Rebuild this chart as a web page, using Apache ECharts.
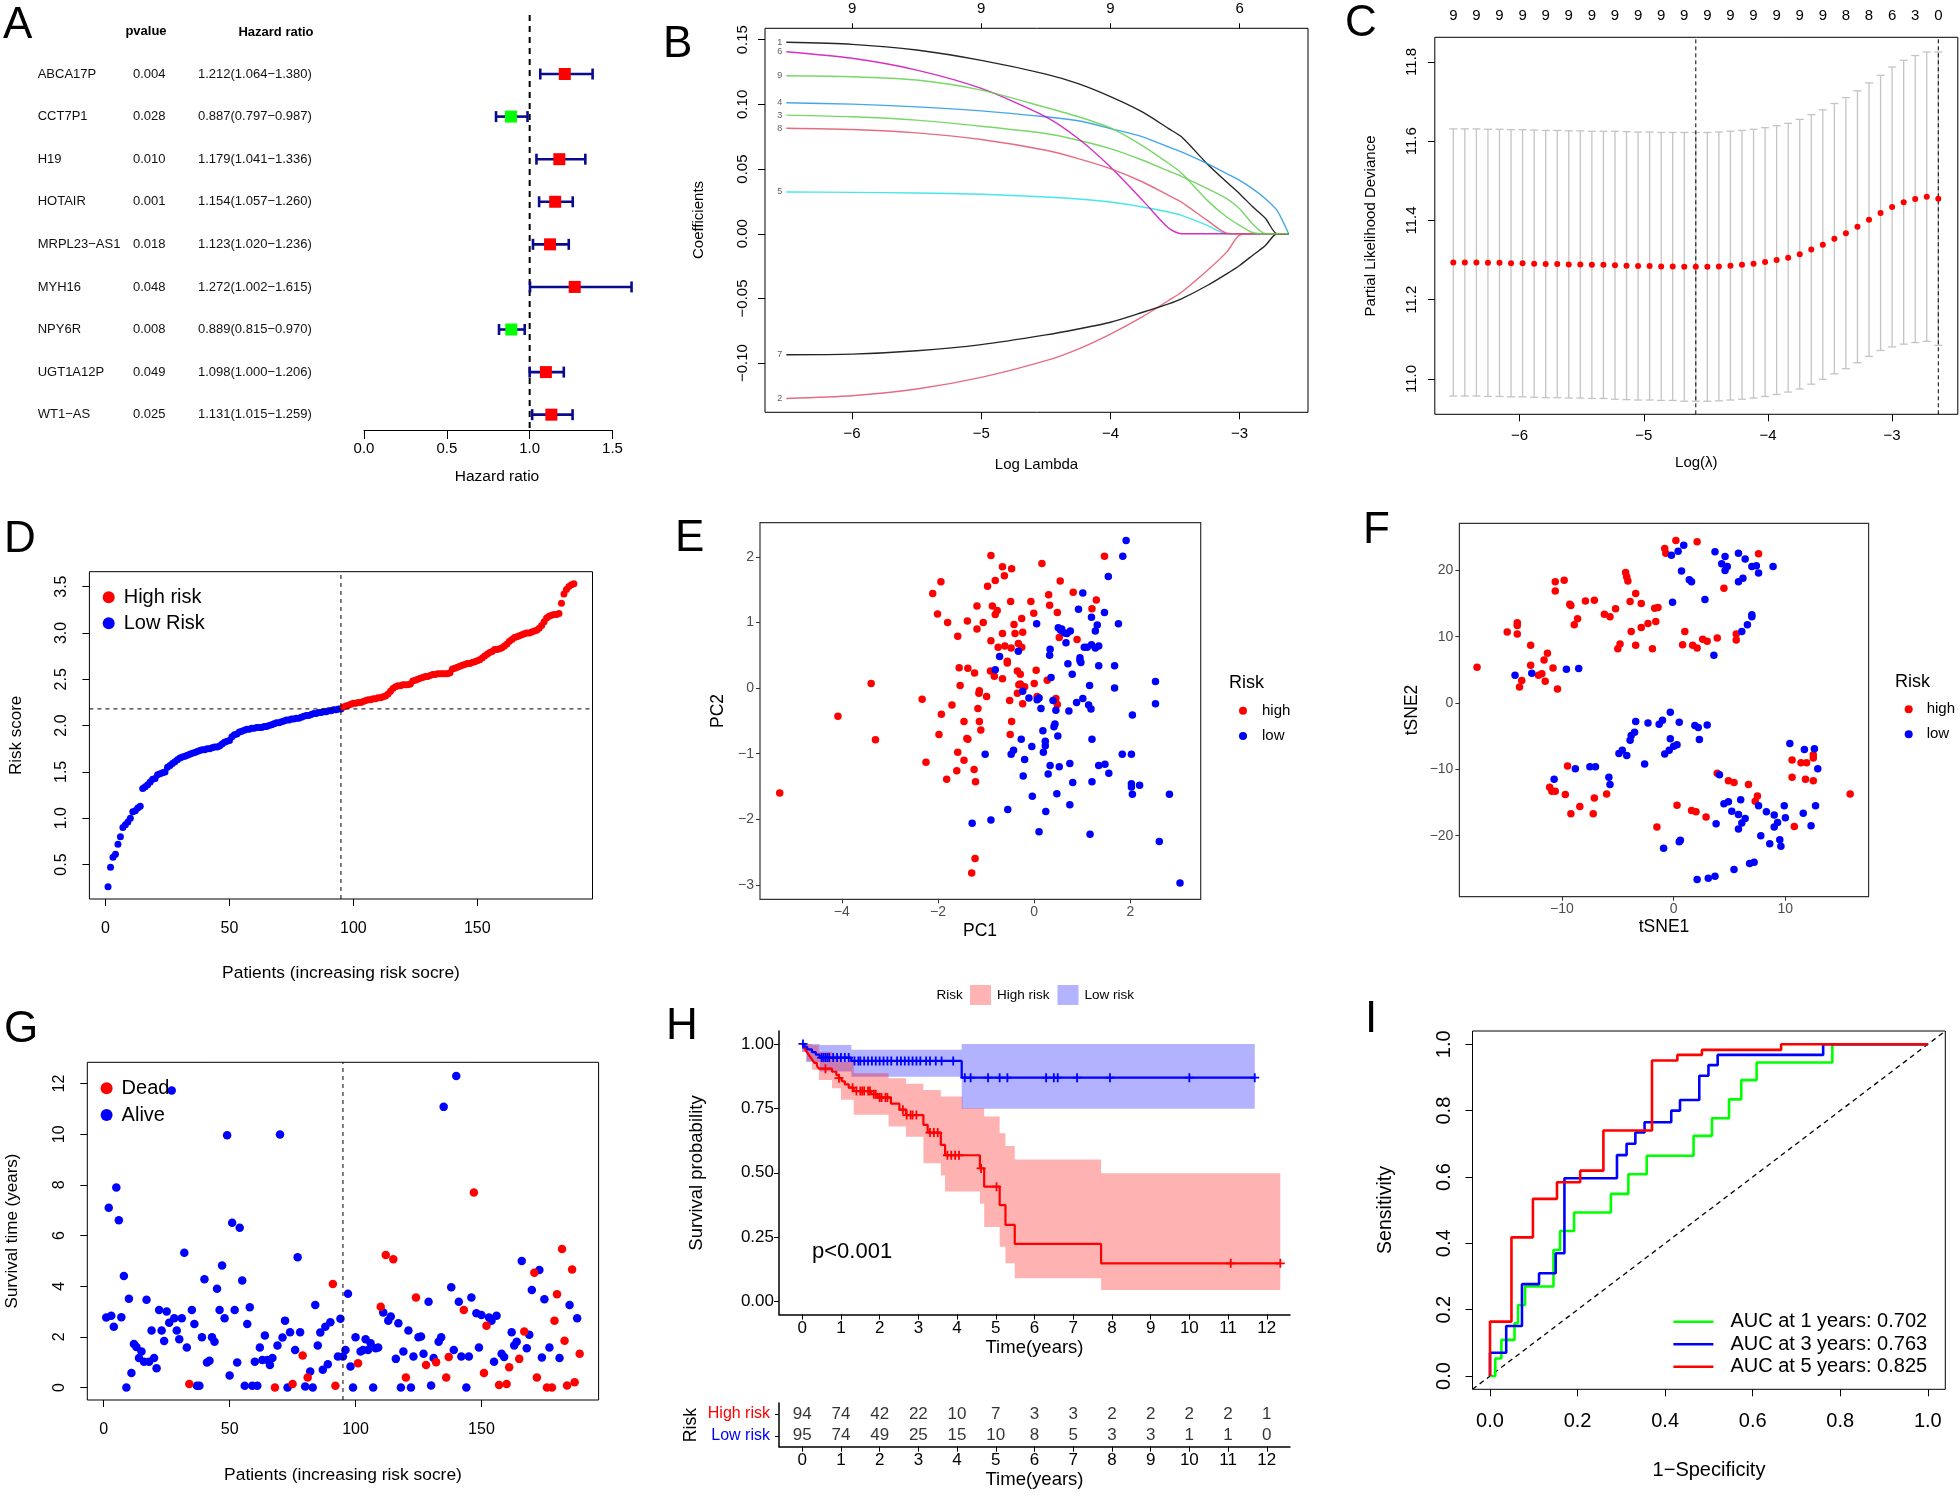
<!DOCTYPE html>
<html><head><meta charset="utf-8">
<script src="https://cdn.jsdelivr.net/npm/echarts@6/dist/echarts.min.js"></script>
<style>html,body{margin:0;padding:0;background:#fff}#c{width:1960px;height:1496px}</style>
</head><body><div id="c"></div>
<script>
// ===================== DATA =====================
// Panel A: univariate Cox forest plot
const genes = ['ABCA17P','CCT7P1','H19','HOTAIR','MRPL23-AS1','MYH16','NPY6R','UGT1A12P','WT1-AS'];
const genePvalues = ['0.004','0.028','0.010','0.001','0.018','0.048','0.008','0.049','0.025'];
const hazardRatio = [1.212,0.887,1.179,1.154,1.123,1.272,0.889,1.098,1.131];
const hrLower = [1.064,0.797,1.041,1.057,1.020,1.002,0.815,1.000,1.015];
const hrUpper = [1.380,0.987,1.336,1.260,1.236,1.615,0.970,1.206,1.259];
const forestTicks = [0,0.5,1,1.5];

// Panel B: LASSO coefficient paths
const lassoLogLambda = [-6.51,-6,-5.5,-5,-4.5,-4.25,-4,-3.75,-3.55,-3.45,-3.25,-3.1,-3,-2.9,-2.8,-2.71,-2.62];
const coefGene1 = [0.148,0.1464,0.142,0.134,0.1234,0.116,0.106,0.094,0.0813,0.0749,0.054,0.040,0.031,0.021,0.012,0,0];
const coefGene2 = [-0.1273,-0.1252,-0.12,-0.111,-0.0981,-0.0891,-0.0775,-0.064,-0.0516,-0.0452,-0.0284,-0.0142,-0.001,0,0,0,0];
const coefGene3 = [0.0917,0.0904,0.0878,0.0831,0.0775,0.0723,0.0658,0.0568,0.0485,0.0444,0.0349,0.0271,0.0194,0.0077,0,0,0];
const coefGene4 = [0.1012,0.1002,0.0981,0.095,0.0904,0.0873,0.0813,0.0749,0.0671,0.0633,0.0542,0.0465,0.0413,0.0349,0.0271,0.018,0];
const coefGene5 = [0.0323,0.032,0.0315,0.0305,0.0284,0.0269,0.0245,0.0207,0.0168,0.0142,0.0065,0,0,0,0,0,0];
const coefGene6 = [0.1407,0.1356,0.1265,0.1123,0.0904,0.0736,0.0516,0.0258,0.0044,0,0,0,0,0,0,0,0];
const coefGene7 = [-0.0935,-0.093,-0.0904,-0.0857,-0.0782,-0.0736,-0.0684,-0.0607,-0.0542,-0.0503,-0.040,-0.031,-0.0245,-0.0168,-0.009,0,0];
const coefGene8 = [0.0816,0.0806,0.078,0.0728,0.0645,0.0581,0.0503,0.040,0.0297,0.0245,0.0103,0.0005,0,0,0,0,0];
const coefGene9 = [0.1221,0.1214,0.1188,0.111,0.0976,0.0905,0.0818,0.068,0.0545,0.047,0.0258,0.0129,0.0065,0.001,0,0,0];
const lassoColors = ['#000000','#DF536B','#61D04F','#2297E6','#28E2E5','#CD0BBC','#000000','#DF536B','#61D04F'];
const lassoTopTicks = [-6,-5,-4,-3];
const lassoTopLabels = ['9','9','9','6'];

// Panel C: cross-validation curve
const cvLogLambda = [-6.534,-6.441,-6.348,-6.255,-6.162,-6.069,-5.976,-5.883,-5.790,-5.697,
  -5.604,-5.511,-5.418,-5.325,-5.232,-5.139,-5.046,-4.953,-4.860,-4.767,
  -4.674,-4.581,-4.488,-4.395,-4.302,-4.209,-4.116,-4.023,-3.930,-3.837,
  -3.744,-3.651,-3.558,-3.465,-3.372,-3.279,-3.186,-3.093,-3.000,-2.907,
  -2.814,-2.721,-2.628];
const cvMean = [11.294,11.294,11.294,11.293,11.293,11.292,11.292,11.291,11.290,11.290,
  11.289,11.289,11.288,11.288,11.287,11.286,11.285,11.285,11.284,11.284,
  11.283,11.283,11.283,11.284,11.286,11.288,11.291,11.295,11.300,11.306,
  11.315,11.327,11.339,11.354,11.368,11.384,11.402,11.419,11.434,11.446,
  11.454,11.460,11.455];
const cvSd = [0.337,0.337,0.337,0.337,0.337,0.337,0.337,0.337,0.337,0.337,
  0.337,0.337,0.337,0.337,0.338,0.338,0.338,0.338,0.338,0.338,
  0.339,0.339,0.339,0.339,0.339,0.339,0.339,0.339,0.339,0.339,
  0.340,0.340,0.340,0.341,0.342,0.343,0.345,0.347,0.353,0.358,
  0.362,0.365,0.370];
const cvNonzero = ['9','9','9','9','9','9','9','9','9','9','9','9','9','9','9','9','9','8','8','6','3','0'];
const cvMinIndex = 21;
const cv1seIndex = 42;

// Panel D: risk score (sorted)
const riskScore = [0.26,0.47,0.58,0.61,0.72,0.80,0.90,0.93,0.96,1.00,
  1.07,1.08,1.11,1.13,1.32,1.34,1.36,1.39,1.42,1.43,
  1.47,1.48,1.49,1.50,1.55,1.57,1.59,1.61,1.63,1.65,
  1.66,1.67,1.68,1.69,1.70,1.71,1.72,1.73,1.74,1.74,
  1.75,1.75,1.76,1.77,1.77,1.78,1.80,1.82,1.83,1.84,
  1.88,1.90,1.91,1.93,1.94,1.95,1.96,1.96,1.97,1.97,
  1.98,1.98,1.98,1.99,1.99,2.00,2.01,2.02,2.03,2.03,
  2.04,2.05,2.06,2.06,2.07,2.07,2.08,2.08,2.09,2.10,
  2.11,2.11,2.12,2.13,2.13,2.14,2.14,2.15,2.15,2.16,
  2.16,2.17,2.17,2.18,2.18,
  2.20,2.21,2.22,2.23,2.24,2.24,2.25,2.25,2.26,2.27,
  2.28,2.28,2.29,2.29,2.30,2.30,2.31,2.32,2.34,2.37,
  2.40,2.42,2.43,2.43,2.44,2.44,2.44,2.45,2.48,2.49,
  2.50,2.51,2.52,2.53,2.53,2.54,2.55,2.55,2.56,2.56,
  2.56,2.56,2.56,2.57,2.61,2.62,2.63,2.64,2.65,2.66,
  2.67,2.67,2.68,2.69,2.70,2.71,2.73,2.75,2.77,2.79,
  2.80,2.82,2.82,2.83,2.84,2.86,2.88,2.91,2.93,2.95,
  2.96,2.97,2.98,2.99,3.00,3.00,3.01,3.02,3.03,3.05,
  3.08,3.12,3.16,3.18,3.19,3.20,3.20,3.21,3.32,3.42,
  3.47,3.50,3.52,3.53];
const lowRiskCount = 95;
const riskCutoff = 2.18;

// Panel E: PCA
const pcaHigh = [[-0.90,2.02],[-0.66,1.85],[-0.47,1.82],[-0.62,1.71],[-0.81,1.64],[-0.97,1.55],[0.16,1.90],[0.54,1.63],[0.81,1.46],[1.46,2.01],
  [-1.94,1.62],[-2.11,1.44],[-2.01,1.13],[-1.80,1.00],[-1.39,1.02],[-1.19,1.25],[-1.19,0.90],[-1.06,1.00],[-1.59,0.79],[-0.87,1.25],
  [-0.77,1.18],[-0.81,1.12],[-0.49,1.32],[-0.07,1.32],[0.30,1.42],[0.32,1.26],[0.48,1.15],[-0.01,1.14],[-0.26,1.06],[-0.42,0.97],
  [-0.66,0.83],[-0.40,0.83],[-0.24,0.85],[-0.90,0.72],[-0.61,0.64],[-0.48,0.61],[-0.33,0.68],[-0.26,0.62],[1.29,1.34],[1.20,1.21],
  [0.89,0.74],[0.52,0.77],[-1.56,0.31],[-1.38,0.30],[-1.24,0.23],[-0.91,0.26],[-0.83,0.18],[-0.56,0.41],[-0.56,0.38],[-0.35,0.26],
  [-0.29,0.21],[0.04,0.27],[-0.66,0.14],[-0.32,0.05],[-0.29,0.06],[0.00,0.07],[0.27,0.12],[-3.39,0.07],[-1.54,0.04],[-1.14,-0.04],
  [-1.15,-0.08],[-0.99,-0.13],[-0.35,-0.08],[0.06,-0.13],[-2.33,-0.17],[-0.51,-0.19],[-0.24,-0.24],[-1.71,-0.26],[0.45,-0.16],[0.48,-0.25],
  [-1.17,-0.31],[-1.93,-0.40],[-4.08,-0.43],[-1.46,-0.51],[-1.14,-0.51],[-0.47,-0.51],[-1.11,-0.64],[-1.98,-0.71],[-0.50,-0.71],[-1.40,-0.77],
  [-1.38,-0.78],[-3.30,-0.79],[-1.59,-0.98],[-2.25,-1.13],[-1.46,-1.10],[-1.61,-1.26],[-1.25,-1.24],[-1.82,-1.39],[-1.22,-1.43],[-5.29,-1.60],
  [-1.23,-2.60],[-1.30,-2.82],[-0.75,0.62],[-0.20,0.02]];
const pcaLow = [[1.91,2.25],[1.84,2.01],[1.54,1.70],[1.01,1.45],[0.92,1.20],[1.46,1.15],[1.19,1.08],[1.75,0.98],[0.05,0.98],[1.31,0.96],
  [0.50,0.92],[0.57,0.90],[0.63,0.84],[0.75,0.87],[0.68,0.83],[1.27,0.87],[0.33,0.59],[0.32,0.50],[0.66,0.69],[-0.33,0.56],
  [-0.72,0.48],[1.04,0.62],[1.19,0.66],[1.34,0.64],[1.27,0.61],[0.95,0.46],[0.97,0.39],[0.70,0.37],[1.34,0.34],[1.67,0.34],
  [-0.81,0.28],[0.79,0.21],[0.35,0.16],[2.52,0.10],[1.15,0.04],[1.67,0.00],[-0.24,-0.05],[-0.11,-0.15],[0.06,-0.18],[0.39,-0.19],
  [1.01,-0.16],[0.88,-0.22],[2.52,-0.24],[1.13,-0.26],[1.18,-0.32],[0.14,-0.31],[0.45,-0.34],[0.72,-0.35],[2.04,-0.41],[0.18,-0.65],
  [0.43,-0.55],[0.41,-0.59],[0.49,-0.73],[-0.27,-0.78],[1.20,-0.78],[0.23,-0.81],[0.23,-0.88],[-0.05,-0.89],[0.19,-0.98],[-0.43,-0.95],
  [-0.48,-1.01],[-1.02,-1.01],[-0.20,-1.09],[1.83,-1.01],[2.02,-1.01],[0.33,-1.18],[0.52,-1.20],[0.74,-1.15],[1.34,-1.18],[1.47,-1.16],
  [-0.23,-1.34],[0.29,-1.31],[1.55,-1.30],[0.80,-1.44],[1.20,-1.43],[2.02,-1.46],[2.19,-1.48],[2.02,-1.51],[-0.04,-1.65],[0.47,-1.61],
  [2.04,-1.62],[2.81,-1.62],[0.74,-1.78],[-0.55,-1.85],[0.24,-1.88],[-1.29,-2.06],[-0.90,-2.01],[0.10,-2.19],[1.16,-2.23],[2.60,-2.34],
  [3.03,-2.97],[0.55,0.88],[0.10,-0.15],[1.10,0.62],[0.95,0.42]];

// Panel F: t-SNE
const tsneHigh = [[-17.6,5.4],[-14.9,10.7],[-14.0,12.1],[-14.0,11.7],[-14.0,10.4],[-12.8,8.7],[-12.8,5.7],[-11.3,7.5],[-11.6,6.5],[-10.8,5.3],
  [-12.1,4.2],[-11.8,4.4],[-11.5,3.3],[-13.6,3.4],[-13.8,2.4],[-10.4,2.1],[-10.6,18.3],[-9.8,18.5],[-10.6,16.9],[-9.3,14.9],
  [-9.2,14.7],[-8.6,12.7],[-8.9,11.8],[-7.9,15.4],[-7.1,15.5],[-6.2,13.4],[-5.7,13.0],[-5.2,14.2],[-4.3,19.7],[-4.2,19.0],
  [-4.1,18.4],[-3.9,15.3],[-3.4,16.5],[-2.9,15.0],[-1.7,14.3],[-1.4,14.4],[-1.6,12.3],[-2.3,12.0],[-2.9,11.4],[-3.8,10.8],
  [-4.8,8.9],[-5.0,8.2],[-3.4,8.7],[-1.9,8.2],[-0.8,23.3],[-0.7,22.6],[0.2,24.5],[2.1,24.3],[7.6,22.5],[4.5,17.3],
  [1.0,10.8],[0.8,8.8],[1.7,8.7],[2.1,8.3],[2.6,9.6],[3.0,9.3],[3.9,9.8],[5.6,10.4],[5.6,9.5],
  [-9.5,-9.5],[-11.1,-12.7],[-10.9,-13.3],[-10.6,-13.3],[-9.7,-13.8],[-9.2,-16.7],[-8.4,-15.6],[-7.2,-16.7],[-7.1,-14.3],[-6.0,-13.7],
  [-1.5,-18.7],[0.3,-15.4],[1.6,-16.2],[2.0,-16.4],[2.9,-17.2],[3.9,-10.6],[4.9,-11.7],[5.4,-12.0],[6.7,-12.3],[7.3,-14.8],
  [7.5,-14.0],[10.6,-8.6],[11.4,-9.0],[11.9,-9.0],[12.5,-8.3],[12.5,-7.8],[10.6,-11.2],[11.8,-11.5],[12.5,-11.7],[10.8,-18.6],
  [15.8,-13.7]];
const tsneLow = [[-14.2,4.2],[-12.7,4.5],[-9.6,5.1],[-8.5,5.2],[-0.2,22.3],[0.4,22.9],[0.9,23.8],[3.7,22.8],[4.6,22.1],[5.8,22.6],
  [6.4,21.7],[7.6,19.6],[7.0,20.6],[7.4,20.7],[8.9,20.6],[4.3,21.0],[4.8,20.6],[4.6,20.0],[0.7,19.9],[1.4,18.6],
  [1.6,18.3],[5.8,18.3],[6.2,18.8],[2.8,15.6],[-0.1,15.2],[7.0,13.3],[7.0,13.0],[6.6,11.8],[6.1,10.8],[3.6,7.2],
  [-0.3,-1.4],[-3.4,-2.8],[-2.3,-3.0],[-1.3,-3.2],[-1.0,-2.6],[0.5,-2.9],[1.9,-3.4],[2.2,-3.7],[3.0,-3.3],[2.3,-5.5],
  [-3.5,-4.4],[-3.8,-4.9],[-3.9,-5.6],[-4.9,-7.6],[-4.6,-7.1],[-4.2,-7.9],[-0.3,-5.4],[0.0,-6.5],[0.3,-6.3],[-0.4,-7.1],
  [-0.8,-7.7],[-2.6,-9.2],[-8.8,-9.9],[-7.5,-9.6],[-7.0,-9.6],[-10.7,-11.5],[-5.8,-11.2],[-5.7,-12.3],[-0.9,-21.9],[0.5,-20.9],
  [0.6,-20.7],[2.1,-26.6],[3.1,-26.4],[3.7,-26.1],[5.4,-25.1],[6.8,-24.2],[7.2,-24.0],[3.8,-18.2],[4.1,-10.8],[4.5,-15.2],
  [4.9,-14.9],[5.2,-16.3],[5.8,-16.8],[6.0,-14.6],[6.1,-18.1],[6.4,-17.4],[5.8,-19.0],[7.6,-15.5],[7.8,-20.0],[8.3,-16.4],
  [8.6,-21.2],[9.0,-16.9],[9.0,-18.7],[9.3,-18.0],[9.5,-20.6],[9.6,-21.6],[9.9,-15.5],[10.0,-17.3],[11.6,-16.6],[12.3,-18.5],
  [12.7,-15.5],[10.4,-6.1],[11.7,-7.0],[12.6,-6.9],[12.9,-9.9]];

// Panel G: survival time per patient (sorted by risk) and status (1 = dead)
const survTime = [2.76,7.1,2.83,2.4,7.9,6.6,2.77,4.4,0,3.5,
  0.57,1.72,1.6,1.16,1.42,1.02,3.46,1.02,2.25,1.16,
  0.76,3.06,2.25,1.84,3.0,2.56,11.73,2.73,2.25,1.9,
  2.73,5.32,1.58,0.14,3.06,2.51,0.07,0.07,1.98,4.27,
  0.99,1.06,1.98,1.81,3.9,3.06,4.82,2.73,9.96,0.47,
  6.5,3.06,0.99,6.31,4.22,0.07,2.51,3.17,0.07,1.02,
  0.07,1.58,1.09,2.05,1.09,0.89,1.16,0,1.66,9.99,
  1.97,2.64,0,2.18,0.14,1.48,5.14,2.18,1.26,0.04,
  0.39,0.63,0,3.26,1.66,2.17,0.7,2.4,0.92,2.58,
  4.09,0.07,1.22,2.71,1.22,1.48,3.7,0.83,0,1.98,
  0.96,1.42,1.48,1.9,1.48,1.75,0,1.55,1.58,3.19,
  2.96,5.23,2.64,2.8,5.06,1.13,2.54,0,1.42,0.39,
  2.25,0,1.22,3.55,1.98,2.01,1.33,0.89,3.39,0.08,
  1.16,1.0,1.81,1.98,11.08,0.39,1.2,3.96,1.48,12.3,
  3.39,1.22,3.06,0,1.22,3.55,7.7,2.93,1.58,2.86,
  0.57,2.44,2.76,2.64,1.02,2.83,0.1,1.33,1.2,0.14,
  0.8,2.18,1.66,1.81,1.13,4.99,2.21,1.55,2.08,3.85,
  4.53,0.39,4.64,1.18,3.48,0,1.58,0,2.64,3.68,
  1.16,5.47,1.85,0.08,3.26,4.66,0.21,2.73,1.33];
const survStatus = [0,0,0,0,0,0,0,0,0,0, 0,0,0,0,0,0,0,0,0,0, 0,0,0,0,0,0,0,0,0,0,
  0,0,0,1,0,0,0,0,0,0, 0,0,0,0,0,0,0,0,0,0, 0,0,0,0,0,0,0,0,0,0,
  0,0,0,0,0,0,0,1,0,0, 0,0,0,0,1,0,0,0,1,0, 1,0,0,0,0,0,0,0,0,0,
  1,1,0,0,0,0,0,0,0,0, 1,0,0,0,0,0,0,0,0,1, 0,1,0,0,1,0,0,0,0,1,
  0,0,0,1,0,0,0,1,0,0, 0,1,0,0,0,1,1,0,0,0, 0,0,1,0,0,0,1,0,0,0,
  1,1,0,0,0,0,1,0,0,1, 1,0,0,0,1,0,1,0,0,0, 1,1,0,0,0,1,0,1,1,1,
  0,1,1,1,0,1,1,0,1];

// Panel H: Kaplan-Meier
const kmHigh = [[0,1],[0.04,0.989],[0.08,0.979],[0.12,0.968],[0.17,0.957],[0.22,0.947],[0.27,0.936],[0.32,0.926],[0.38,0.915],[0.43,0.904],
  [0.77,0.892],[0.88,0.879],[0.95,0.867],[1.02,0.855],[1.1,0.843],[1.2,0.830],[1.33,0.817],[1.78,0.805],[1.95,0.792],[2.29,0.768],
  [2.51,0.745],[2.68,0.724],[3.13,0.686],[3.24,0.656],[3.58,0.608],[3.69,0.568],[4.59,0.517],[4.7,0.446],[5.1,0.375],[5.25,0.298],
  [5.49,0.224],[7.72,0.149],[12.35,0.149]];
const kmLow = [[0,1],[0.06,0.989],[0.13,0.979],[0.25,0.968],[0.35,0.958],[0.45,0.947],[1.27,0.934],[4.12,0.869],[11.69,0.869]];
const kmHighCensor = [0.6,0.95,1.3,1.4,1.5,1.55,1.6,1.7,1.75,1.85,1.9,2.0,2.05,2.15,2.2,2.6,2.7,2.8,2.85,2.95,3.3,3.4,3.5,3.75,3.85,3.95,4.05,4.62,5.02,11.07,12.35];
const kmLowCensor = [0.02,0.5,0.55,0.6,0.65,0.7,0.8,0.9,1.0,1.1,1.2,1.35,1.45,1.5,1.6,1.7,1.8,1.9,2.0,2.1,2.2,2.3,2.45,2.55,2.65,2.75,2.85,2.95,3.05,3.2,3.3,3.45,3.6,3.9,4.2,4.35,4.8,5.1,5.3,6.3,6.5,6.6,7.1,7.95,10.0,11.69];
const ciHighTime = [0,0.12,0.25,0.43,0.77,1.0,1.33,2.23,2.68,3.13,3.58,3.69,4.14,4.59,4.7,5.1,5.25,5.49,7.72];
const ciHighLower = [0.97,0.935,0.90,0.86,0.828,0.783,0.725,0.68,0.64,0.537,0.49,0.427,0.427,0.38,0.29,0.213,0.149,0.091,0.045];
const ciHighUpper = [1.0,1.0,0.995,0.97,0.955,0.93,0.886,0.867,0.845,0.821,0.796,0.796,0.75,0.75,0.718,0.653,0.604,0.552,0.498];
const ciHighEnd = 12.35;
const ciLowTime = [0,0.1,0.45,1.27,4.12];
const ciLowLower = [0.97,0.93,0.893,0.873,0.748];
const ciLowUpper = [1.0,1.0,0.996,0.977,1.0];
const ciLowEnd = 11.69;
const atRiskTimes = [0,1,2,3,4,5,6,7,8,9,10,11,12];
const atRiskHigh = [94,74,42,22,10,7,3,3,2,2,2,2,1];
const atRiskLow = [95,74,49,25,15,10,8,5,3,3,1,1,0];

// Panel I: time-dependent ROC
const rocYear1 = [[0,0],[0.012,0],[0.012,0.053],[0.026,0.053],[0.026,0.109],[0.056,0.109],[0.056,0.159],[0.064,0.159],[0.064,0.214],[0.08,0.214],
  [0.08,0.27],[0.145,0.27],[0.145,0.38],[0.16,0.38],[0.16,0.437],[0.192,0.437],[0.192,0.493],[0.276,0.493],[0.276,0.549],[0.316,0.549],
  [0.316,0.608],[0.358,0.608],[0.358,0.664],[0.465,0.664],[0.465,0.724],[0.507,0.724],[0.507,0.777],[0.546,0.777],[0.546,0.834],[0.574,0.834],
  [0.574,0.892],[0.609,0.892],[0.609,0.945],[0.782,0.945],[0.782,1],[1,1]];
const rocYear3 = [[0,0],[0,0.07],[0.037,0.07],[0.037,0.151],[0.073,0.151],[0.073,0.277],[0.112,0.277],[0.112,0.31],[0.15,0.31],[0.15,0.37],
  [0.17,0.37],[0.17,0.596],[0.29,0.596],[0.29,0.666],[0.312,0.666],[0.312,0.70],[0.332,0.70],[0.332,0.734],[0.353,0.734],[0.353,0.765],
  [0.414,0.765],[0.414,0.80],[0.434,0.80],[0.434,0.832],[0.478,0.832],[0.478,0.905],[0.499,0.905],[0.499,0.937],[0.52,0.937],[0.52,0.968],
  [0.761,0.968],[0.761,1],[1,1]];
const rocYear5 = [[0,0],[0,0.164],[0.049,0.164],[0.049,0.418],[0.098,0.418],[0.098,0.534],[0.153,0.534],[0.153,0.584],[0.206,0.584],[0.206,0.619],
  [0.259,0.619],[0.259,0.74],[0.37,0.74],[0.37,0.951],[0.428,0.951],[0.428,0.968],[0.484,0.968],[0.484,0.983],[0.665,0.983],[0.665,1],[1,1]];
const aucLabels = ['AUC at 1 years: 0.702','AUC at 3 years: 0.763','AUC at 5 years: 0.825'];

// ===================== HELPERS =====================
const FONT = 'Liberation Sans, Arial, Helvetica, sans-serif';
const RED = '#FF0000', BLUE = '#0000FF', GREEN = '#00FF00';
const CLEAR = 'rgba(0,0,0,0)';
const fmt = d => v => (+v).toFixed(d).replace('-', '\u2212');

function valAxis(o) {
  const a = {
    type: 'value', gridIndex: o.g, min: o.min, max: o.max, position: o.pos,
    inverse: !!o.inverse, z: 5,
    splitLine: {show: false},
    axisLine: {show: !!o.line, onZero: false, lineStyle: {color: o.lineColor || '#000', width: o.lineWidth || 1}},
    axisTick: {show: o.tick !== false, inside: false, length: o.tickLen || 7, customValues: o.ticks,
      lineStyle: {color: o.tickColor || '#000', width: o.tickWidth || 1}},
    axisLabel: {show: o.label !== false, customValues: o.ticks, fontSize: o.fs, fontFamily: FONT,
      color: o.color || '#000', margin: o.margin, rotate: o.rotate || 0,
      formatter: o.formatter || fmt(o.dec || 0)}
  };
  if (o.alignLabel) a.axisLabel.align = o.alignLabel;
  if (o.rich) a.axisLabel.rich = o.rich;
  return a;
}
function txt(text, x, y, size, extra) {
  extra = extra || {};
  const al = extra.align || 'center';
  return {type: 'text', x: x, y: y, rotation: extra.rot || 0, z: 100, silent: true,
    style: {text: text, fontSize: size, fontFamily: FONT, fontWeight: extra.bold ? 'bold' : 'normal',
      fill: extra.color || '#000', align: al, textAlign: al, verticalAlign: 'middle', textVerticalAlign: 'middle'}};
}
function dash(xi, yi, pts, w, type) {
  return {type: 'line', xAxisIndex: xi, yAxisIndex: yi, data: pts, symbol: 'none', silent: true, z: 4,
    lineStyle: {color: '#000', width: w || 1, type: type || [4, 4]}};
}
function scat(name, xi, yi, data, color, size, z) {
  return {type: 'scatter', name: name, xAxisIndex: xi, yAxisIndex: yi, data: data, symbolSize: size,
    silent: true, z: z || 3, itemStyle: {color: color, opacity: 1}};
}
function stepValue(curve, t) {
  let v = curve[0][1];
  for (const p of curve) { if (p[0] <= t) v = p[1]; }
  return v;
}
function bandSeries(xi, yi, times, lower, upper, end, fill) {
  return {type: 'custom', xAxisIndex: xi, yAxisIndex: yi, data: [[times[0], lower[0]]], silent: true, z: 2,
    renderItem: function (params, api) {
      const pts = [];
      const n = times.length;
      for (let i = 0; i < n; i++) {
        const t1 = i < n - 1 ? times[i + 1] : end;
        pts.push(api.coord([times[i], upper[i]]), api.coord([t1, upper[i]]));
      }
      for (let i = n - 1; i >= 0; i--) {
        const t1 = i < n - 1 ? times[i + 1] : end;
        pts.push(api.coord([t1, lower[i]]), api.coord([times[i], lower[i]]));
      }
      return {type: 'polygon', shape: {points: pts}, style: {fill: fill}};
    }};
}
const plusSymbol = 'path://M4,0 H6 V4 H10 V6 H6 V10 H4 V6 H0 V4 H4 Z';

// ===================== GRIDS =====================
const grids = [
  {left: 364, top: 15, width: 248.5, height: 415},                                        // 0 A
  {left: 765, top: 28.3, width: 543, height: 384, show: true, borderColor: '#000', borderWidth: 1},     // 1 B
  {left: 1434.8, top: 37.3, width: 523, height: 377, show: true, borderColor: '#000', borderWidth: 1},  // 2 C
  {left: 89.4, top: 571.7, width: 503.1, height: 327.3, show: true, borderColor: '#000', borderWidth: 1},// 3 D
  {left: 760, top: 522.7, width: 440.7, height: 376.6, show: true, borderColor: '#333', borderWidth: 1.2},// 4 E
  {left: 1459.4, top: 523.3, width: 409.2, height: 373.4, show: true, borderColor: '#333', borderWidth: 1.2},// 5 F
  {left: 87.3, top: 1062.3, width: 511.3, height: 337.7, show: true, borderColor: '#000', borderWidth: 1},// 6 G
  {left: 779, top: 1031, width: 511, height: 283.6},                                      // 7 H
  {left: 779, top: 1403, width: 511, height: 43.7},                                       // 8 H table
  {left: 1472.5, top: 1031, width: 472.8, height: 358.3, show: true, borderColor: '#000', borderWidth: 1} // 9 I
];

const cvTopTicks = cvLogLambda.filter((v, i) => i % 2 === 0);
function nearestLabel(ticks, labels) {
  return function (v) {
    let best = 0;
    ticks.forEach((t, i) => { if (Math.abs(t - v) < Math.abs(ticks[best] - v)) best = i; });
    return labels[best];
  };
}

const xAxes = [
  valAxis({g: 0, min: 0, max: 1.5, pos: 'bottom', line: true, ticks: forestTicks, fs: 15, margin: 11, dec: 1, tickLen: 9}), // 0
  valAxis({g: 1, min: -6.675, max: -2.47, pos: 'bottom', ticks: [-6, -5, -4, -3], fs: 15, margin: 14}),                     // 1
  valAxis({g: 1, min: -6.675, max: -2.47, pos: 'top', ticks: lassoTopTicks, fs: 15, margin: 12, tickLen: 5,
    formatter: nearestLabel(lassoTopTicks, lassoTopLabels)}),                                                              // 2
  valAxis({g: 2, min: -6.683, max: -2.471, pos: 'bottom', ticks: [-6, -5, -4, -3], fs: 15, margin: 14}),                    // 3
  valAxis({g: 2, min: -6.683, max: -2.471, pos: 'top', ticks: cvTopTicks, fs: 15, margin: 14, tick: false,
    formatter: nearestLabel(cvTopTicks, cvNonzero)}),                                                                      // 4
  valAxis({g: 3, min: -6.52, max: 196.52, pos: 'bottom', ticks: [0, 50, 100, 150], fs: 16, margin: 22}),                    // 5
  valAxis({g: 4, min: -5.70, max: 3.46, pos: 'bottom', ticks: [-4, -2, 0, 2], fs: 14, margin: 6, tickLen: 4, color: '#4D4D4D', tickColor: '#333'}), // 6
  valAxis({g: 5, min: -19.18, max: 17.45, pos: 'bottom', ticks: [-10, 0, 10], fs: 14, margin: 5, tickLen: 4, color: '#4D4D4D', tickColor: '#333'}), // 7
  valAxis({g: 6, min: -6.52, max: 196.52, pos: 'bottom', ticks: [0, 50, 100, 150], fs: 16, margin: 22}),                    // 8
  valAxis({g: 7, min: -0.6, max: 12.6, pos: 'bottom', line: true, lineWidth: 1.5, ticks: atRiskTimes, fs: 17, margin: 5, tickLen: 5}), // 9
  valAxis({g: 8, min: -0.6, max: 12.6, pos: 'bottom', line: true, lineWidth: 1.5, ticks: atRiskTimes, fs: 17, margin: 5, tickLen: 5}), // 10
  valAxis({g: 9, min: -0.04, max: 1.04, pos: 'bottom', ticks: [0, 0.2, 0.4, 0.6, 0.8, 1.0], fs: 20, margin: 22, dec: 1})    // 11
];

const forestRich = {
  g: {width: 95.3, align: 'left', fontSize: 13, fontFamily: FONT, color: '#111'},
  p: {width: 65, align: 'left', fontSize: 13, fontFamily: FONT, color: '#111'},
  h: {width: 125, align: 'left', fontSize: 13, fontFamily: FONT, color: '#111'}
};
function forestLabel(v) {
  const i = Math.round(v) - 1;
  if (i < 0 || i >= genes.length) return '';
  const h = hazardRatio[i].toFixed(3) + '(' + hrLower[i].toFixed(3) + '\u2212' + hrUpper[i].toFixed(3) + ')';
  return '{g|' + genes[i].replace('-', '\u2212') + '}{p|' + genePvalues[i] + '}{h|' + h + '}';
}

const yAxes = [
  valAxis({g: 0, min: -0.386, max: 9.36, pos: 'left', inverse: true, ticks: [1, 2, 3, 4, 5, 6, 7, 8, 9], tick: false, fs: 13,
    margin: 326.3, alignLabel: 'left', rich: forestRich, formatter: forestLabel}),                                       // 0
  valAxis({g: 1, min: -0.138, max: 0.1588, pos: 'left', ticks: [-0.10, -0.05, 0, 0.05, 0.10, 0.15], fs: 15, margin: 15, rotate: 90, dec: 2}), // 1
  valAxis({g: 2, min: 10.911, max: 11.862, pos: 'left', ticks: [11.0, 11.2, 11.4, 11.6, 11.8], fs: 15, margin: 15, rotate: 90, dec: 1}),  // 2
  valAxis({g: 3, min: 0.128, max: 3.661, pos: 'left', ticks: [0.5, 1.0, 1.5, 2.0, 2.5, 3.0, 3.5], fs: 16, margin: 20, rotate: 90, dec: 1}), // 3
  valAxis({g: 4, min: -3.22, max: 2.52, pos: 'left', ticks: [-3, -2, -1, 0, 1, 2], fs: 14, margin: 6, tickLen: 4, color: '#4D4D4D', tickColor: '#333'}), // 4
  valAxis({g: 5, min: -29.2, max: 27.1, pos: 'left', ticks: [-20, -10, 0, 10, 20], fs: 14, margin: 6, tickLen: 4, color: '#4D4D4D', tickColor: '#333'}), // 5
  valAxis({g: 6, min: -0.494, max: 12.84, pos: 'left', ticks: [0, 2, 4, 6, 8, 10, 12], fs: 16, margin: 20, rotate: 90}),      // 6
  valAxis({g: 7, min: -0.05, max: 1.05, pos: 'left', line: true, lineWidth: 1.5, ticks: [0, 0.25, 0.5, 0.75, 1.0], fs: 17, margin: 5, tickLen: 5, dec: 2}), // 7
  {type: 'category', gridIndex: 8, data: ['Low risk', 'High risk'], position: 'left',
    axisLine: {show: true, onZero: false, lineStyle: {color: '#000', width: 1.5}},
    axisTick: {show: true, alignWithLabel: true, length: 4, lineStyle: {color: '#000'}},
    axisLabel: {fontSize: 16, fontFamily: FONT, margin: 9, color: v => (v === 'High risk' ? RED : BLUE)}},              // 8
  valAxis({g: 9, min: -0.04, max: 1.04, pos: 'left', ticks: [0, 0.2, 0.4, 0.6, 0.8, 1.0], fs: 20, margin: 18, rotate: 90, dec: 1}) // 9
];

// ===================== SERIES =====================
const series = [];

// ---- D first so shared legend names pick its colours
const riskLowData = [], riskHighData = [];
riskScore.forEach((r, i) => { (i < lowRiskCount ? riskLowData : riskHighData).push([i + 1, r]); });
series.push(scat('Low Risk', 5, 3, riskLowData, BLUE, 7));
series.push(scat('High risk', 5, 3, riskHighData, RED, 7));
series.push(dash(5, 3, [[-6.52, riskCutoff], [196.52, riskCutoff]], 1));
series.push(dash(5, 3, [[lowRiskCount, 0.128], [lowRiskCount, 3.661]], 1));

// ---- A forest
series.push({
  type: 'custom', xAxisIndex: 0, yAxisIndex: 0, clip: false, silent: true, z: 5,
  encode: {x: [1, 2, 3], y: 0},
  data: genes.map((g, i) => [i + 1, hazardRatio[i], hrLower[i], hrUpper[i]]),
  renderItem: function (params, api) {
    const y = api.value(0);
    const pL = api.coord([api.value(2), y]), pH = api.coord([api.value(3), y]), pV = api.coord([api.value(1), y]);
    const st = {stroke: '#0A0A8C', lineWidth: 2.6};
    const cap = 5.5, s = 6;
    return {type: 'group', children: [
      {type: 'line', shape: {x1: pL[0], y1: pL[1], x2: pH[0], y2: pH[1]}, style: st},
      {type: 'line', shape: {x1: pL[0], y1: pL[1] - cap, x2: pL[0], y2: pL[1] + cap}, style: st},
      {type: 'line', shape: {x1: pH[0], y1: pH[1] - cap, x2: pH[0], y2: pH[1] + cap}, style: st},
      {type: 'rect', shape: {x: pV[0] - s, y: pV[1] - s, width: 2 * s, height: 2 * s},
        style: {fill: api.value(1) > 1 ? RED : GREEN}}
    ]};
  }
});
series.push(dash(0, 0, [[1, -0.386], [1, 9.36]], 2, [6, 5]));

// ---- B lasso paths
const lassoGenes = [coefGene1, coefGene2, coefGene3, coefGene4, coefGene5, coefGene6, coefGene7, coefGene8, coefGene9];
lassoGenes.forEach((arr, gi) => {
  series.push({type: 'line', xAxisIndex: 1, yAxisIndex: 1, symbol: 'none', silent: true, smooth: 0.25, z: 3,
    data: lassoLogLambda.map((x, i) => [x, arr[i]]),
    lineStyle: {color: lassoColors[gi], width: 1.4, opacity: 0.85}});
});
series.push({type: 'scatter', xAxisIndex: 1, yAxisIndex: 1, symbolSize: 2, silent: true, z: 4,
  itemStyle: {color: CLEAR},
  data: lassoGenes.map((arr, gi) => ({value: [lassoLogLambda[0], arr[0]], name: String(gi + 1)})),
  label: {show: true, position: 'left', distance: 3, formatter: p => p.name, fontSize: 9, fontFamily: FONT, color: '#333'}});

// ---- C cross-validation
series.push({type: 'custom', xAxisIndex: 3, yAxisIndex: 2, silent: true, z: 3,
  data: cvLogLambda.map((x, i) => [x, cvMean[i], cvSd[i]]),
  renderItem: function (params, api) {
    const x = api.value(0), m = api.value(1), sd = api.value(2);
    const a = api.coord([x, m + sd]), b = api.coord([x, m - sd]);
    const st = {stroke: '#C4C4C4', lineWidth: 1.3};
    const c = 4;
    return {type: 'group', children: [
      {type: 'line', shape: {x1: a[0], y1: a[1], x2: b[0], y2: b[1]}, style: st},
      {type: 'line', shape: {x1: a[0] - c, y1: a[1], x2: a[0] + c, y2: a[1]}, style: st},
      {type: 'line', shape: {x1: b[0] - c, y1: b[1], x2: b[0] + c, y2: b[1]}, style: st}
    ]};
  }});
series.push(scat('cvm', 3, 2, cvLogLambda.map((x, i) => [x, cvMean[i]]), RED, 6, 5));
series.push(dash(3, 2, [[cvLogLambda[cvMinIndex], 10.911], [cvLogLambda[cvMinIndex], 11.862]], 1, [4, 3]));
series.push(dash(3, 2, [[cvLogLambda[cv1seIndex], 10.911], [cvLogLambda[cv1seIndex], 11.862]], 1, [4, 3]));

// ---- E PCA
series.push(scat('high', 6, 4, pcaHigh, RED, 7.5));
series.push(scat('low', 6, 4, pcaLow, BLUE, 7.5));
// ---- F tSNE
series.push(scat('high', 7, 5, tsneHigh, RED, 7.5));
series.push(scat('low', 7, 5, tsneLow, BLUE, 7.5));

// ---- G survival status
const deadData = [], aliveData = [];
survTime.forEach((t, i) => { (survStatus[i] === 1 ? deadData : aliveData).push([i + 1, t]); });
series.push(scat('Alive', 8, 6, aliveData, BLUE, 8.5));
series.push(scat('Dead', 8, 6, deadData, RED, 8.5));
series.push(dash(8, 6, [[lowRiskCount, -0.494], [lowRiskCount, 12.84]], 1));

// ---- H Kaplan-Meier
series.push(bandSeries(9, 7, ciLowTime, ciLowLower, ciLowUpper, ciLowEnd, 'rgba(0,0,255,0.3)'));
series.push(bandSeries(9, 7, ciHighTime, ciHighLower, ciHighUpper, ciHighEnd, 'rgba(255,0,0,0.3)'));
series.push({type: 'line', name: 'High risk', xAxisIndex: 9, yAxisIndex: 7, data: kmHigh, step: 'end', symbol: 'none',
  silent: true, z: 4, lineStyle: {color: RED, width: 2.2}, itemStyle: {color: RED}});
series.push({type: 'line', name: 'Low risk', xAxisIndex: 9, yAxisIndex: 7, data: kmLow, step: 'end', symbol: 'none',
  silent: true, z: 4, lineStyle: {color: BLUE, width: 2.2}, itemStyle: {color: BLUE}});
series.push({type: 'scatter', xAxisIndex: 9, yAxisIndex: 7, symbol: plusSymbol, symbolSize: 9, silent: true, z: 5,
  itemStyle: {color: RED, opacity: 1}, data: kmHighCensor.map(t => [t, stepValue(kmHigh, t)])});
series.push({type: 'scatter', xAxisIndex: 9, yAxisIndex: 7, symbol: plusSymbol, symbolSize: 9, silent: true, z: 5,
  itemStyle: {color: BLUE, opacity: 1}, data: kmLowCensor.map(t => [t, stepValue(kmLow, t)])});
// risk table
const tableData = [];
atRiskTimes.forEach((t, i) => { tableData.push([t, 1, atRiskHigh[i]]); tableData.push([t, 0, atRiskLow[i]]); });
series.push({type: 'scatter', xAxisIndex: 10, yAxisIndex: 8, symbolSize: 2, silent: true, z: 6, itemStyle: {color: CLEAR},
  data: tableData,
  label: {show: true, position: 'inside', formatter: p => String(p.value[2]), fontSize: 17, fontFamily: FONT, color: '#000'}});

// ---- I ROC
series.push(dash(11, 9, [[-0.04, -0.04], [1.04, 1.04]], 1.3, [5, 4]));
[[rocYear1, GREEN], [rocYear3, BLUE], [rocYear5, RED]].forEach((r, i) => {
  series.push({type: 'line', name: aucLabels[i], xAxisIndex: 11, yAxisIndex: 9, data: r[0], symbol: 'none',
    silent: true, z: 4 + i, lineStyle: {color: r[1], width: 2.6}, itemStyle: {color: r[1]}});
});

// ===================== LEGENDS =====================
const legBase = {orient: 'vertical', padding: 0, selectedMode: false, icon: 'circle', inactiveColor: '#000'};
const lineIcon = 'path://M0,0 H40 V2.6 H0 Z';
const legends = [
  Object.assign({}, legBase, {data: ['High risk', 'Low Risk'], left: 102.7, top: 587.3, itemWidth: 12, itemHeight: 12, itemGap: 6,
    textStyle: {fontSize: 20, lineHeight: 20, fontFamily: FONT, color: '#000', padding: [0, 0, 0, 4]}}),
  Object.assign({}, legBase, {data: ['Dead', 'Alive'], left: 100.6, top: 1078.3, itemWidth: 12, itemHeight: 12, itemGap: 6.7,
    textStyle: {fontSize: 20, lineHeight: 20, fontFamily: FONT, color: '#000', padding: [0, 0, 0, 4]}}),
  Object.assign({}, legBase, {data: ['high', 'low'], left: 1239, top: 703.2, itemWidth: 8, itemHeight: 8, itemGap: 10.3,
    textStyle: {fontSize: 15, lineHeight: 15, fontFamily: FONT, color: '#000', padding: [0, 0, 0, 10]}}),
  Object.assign({}, legBase, {data: ['high', 'low'], left: 1904.7, top: 701.8, itemWidth: 8, itemHeight: 8, itemGap: 10,
    textStyle: {fontSize: 15, lineHeight: 15, fontFamily: FONT, color: '#000', padding: [0, 0, 0, 9]}}),
  {orient: 'horizontal', padding: 0, selectedMode: false, left: 970, top: 985, itemWidth: 21, itemHeight: 20, itemGap: 8,
    data: [{name: 'High risk', icon: 'rect', itemStyle: {color: '#FFB3B3'}}, {name: 'Low risk', icon: 'rect', itemStyle: {color: '#B3B3FF'}}],
    textStyle: {fontSize: 13.5, lineHeight: 20, fontFamily: FONT, color: '#000', padding: [0, 0, 0, 1]}},
  {orient: 'vertical', padding: 0, selectedMode: false, left: 1673.4, top: 1311.7, itemWidth: 40, itemHeight: 14, itemGap: 2.5,
    data: aucLabels.map(n => ({name: n, icon: lineIcon})),
    textStyle: {fontSize: 20, lineHeight: 20, fontFamily: FONT, color: '#000', padding: [0, 0, 0, 12]}}
];

// ===================== TEXT =====================
const R90 = Math.PI / 2;
const graphics = [
  txt('A', 3, 26, 44, {align: 'left'}),
  txt('B', 663, 45, 44, {align: 'left'}),
  txt('C', 1345, 24, 44, {align: 'left'}),
  txt('D', 4, 540, 44, {align: 'left'}),
  txt('E', 675, 539, 44, {align: 'left'}),
  txt('F', 1363, 531, 44, {align: 'left'}),
  txt('G', 4, 1030, 44, {align: 'left'}),
  txt('H', 666, 1027, 44, {align: 'left'}),
  txt('I', 1365, 1020, 44, {align: 'left'}),
  // A
  txt('pvalue', 146, 31, 13, {bold: true}),
  txt('Hazard ratio', 276, 32, 13, {bold: true}),
  txt('Hazard ratio', 497, 477, 15.5),
  // B
  txt('Log Lambda', 1036.5, 465, 15),
  txt('Coefficients', 699, 220, 15, {rot: R90}),
  // C
  txt('Log(\u03BB)', 1696.3, 463, 15),
  txt('Partial Likelihood Deviance', 1371, 226, 15, {rot: R90}),
  // D
  txt('Patients (increasing risk socre)', 341, 973, 17.4),
  txt('Risk score', 16.4, 735.4, 17, {rot: R90}),
  // E
  txt('PC1', 980, 931, 17.5),
  txt('PC2', 718.5, 711, 17.5, {rot: R90}),
  txt('Risk', 1229, 683, 18, {align: 'left'}),
  // F
  txt('tSNE1', 1664, 927, 17.5),
  txt('tSNE2', 1412, 710, 17.5, {rot: R90}),
  txt('Risk', 1895, 682, 18, {align: 'left'}),
  // G
  txt('Patients (increasing risk socre)', 343, 1475, 17.4),
  txt('Survival time (years)', 12.3, 1231, 17, {rot: R90}),
  // H
  txt('Risk', 936.5, 995, 13.5, {align: 'left'}),
  txt('Time(years)', 1034.5, 1348, 18.5),
  txt('Survival probability', 696.7, 1173, 18.5, {rot: R90}),
  txt('p<0.001', 812, 1252, 22, {align: 'left'}),
  txt('Risk', 691, 1425, 17.7, {rot: R90}),
  txt('Time(years)', 1034.5, 1480, 18.5),
  // I
  txt('1\u2212Specificity', 1709, 1470, 20),
  txt('Sensitivity', 1385.6, 1210, 19.5, {rot: R90})
];

const option = {
  backgroundColor: '#ffffff',
  animation: false,
  textStyle: {fontFamily: FONT},
  grid: grids,
  xAxis: xAxes,
  yAxis: yAxes,
  legend: legends,
  series: series,
  graphic: graphics
};

const chart = echarts.init(document.getElementById('c'), null, {renderer: 'canvas', width: 1960, height: 1496});
chart.setOption(option);
</script></body></html>
